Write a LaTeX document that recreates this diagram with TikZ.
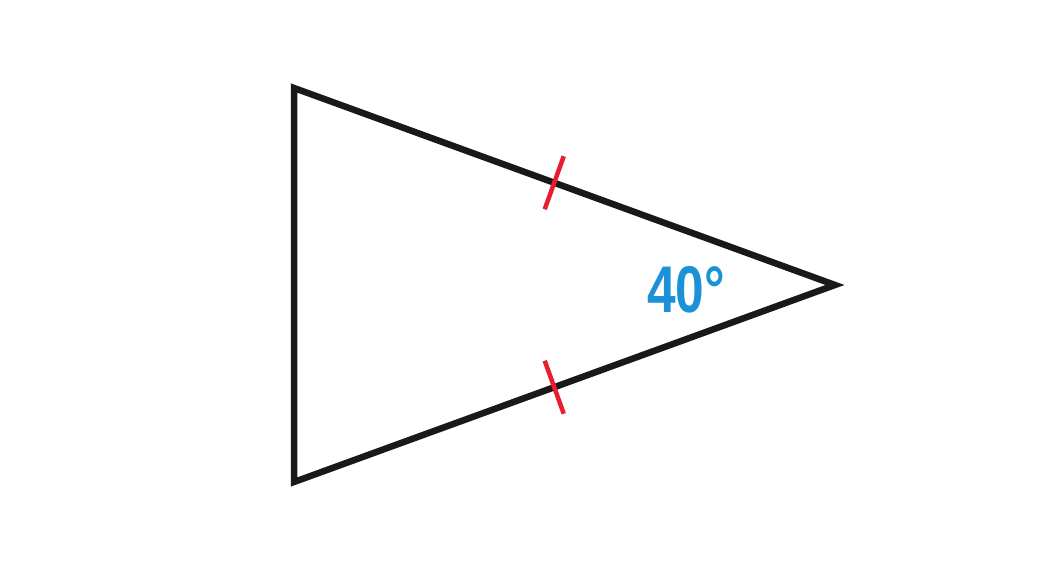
\documentclass[tikz,border=0pt]{standalone}
\usepackage{fontspec}
\usetikzlibrary{calc}
\setmainfont{Liberation Sans}
\definecolor{anglblue}{RGB}{27,146,216}
\definecolor{tickred}{RGB}{230,30,45}
\begin{document}
\begin{tikzpicture}[x=1pt,y=1pt,
  side/.style={line width=6.5pt,line join=miter,black!90},
  tickmark/.style={line width=4.5pt,tickred},
  anglelabel/.style={font=\bfseries\fontsize{66}{66}\selectfont,text=anglblue,xscale=0.78,anchor=base,inner sep=0pt}]
\useasboundingbox (0,0) rectangle (1050,569);
\coordinate (A) at (294,481);
\coordinate (B) at (294,87);
\coordinate (C) at (835,284);
\draw[side] (A) -- (C) -- (B) -- cycle;
\path (A) -- (C) coordinate[pos=0.481] (M1);
\path (B) -- (C) coordinate[pos=0.481] (M2);
\draw[tickmark] ($(M1)+(-9.5,-26.5)$) -- ($(M1)+(9.5,26.5)$);
\draw[tickmark] ($(M2)+(-9.5,26.5)$) -- ($(M2)+(9.5,-26.5)$);
\node[anglelabel] (L) at (686,256) {40°};
\end{tikzpicture}
\end{document}
